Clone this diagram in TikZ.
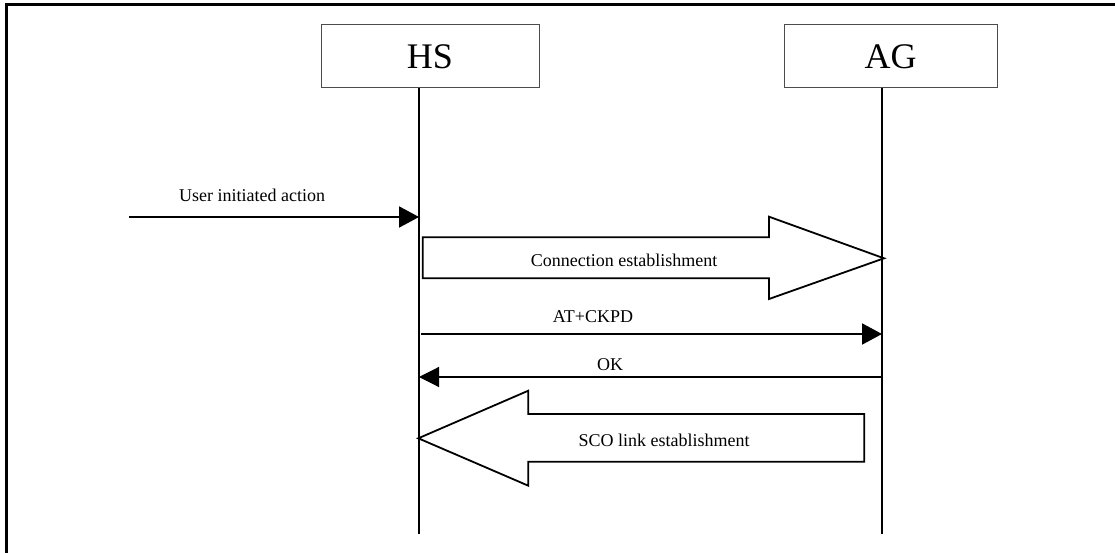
\documentclass[tikz,border=0pt]{standalone}
\usepackage{fontspec}
\setmainfont{Liberation Serif}
\usetikzlibrary{arrows.meta}
\begin{document}
\begin{tikzpicture}[x=1pt,y=-1pt,
  entity/.style={draw=black!70, line width=1pt, minimum height=63pt, inner sep=0pt, font=\fontsize{36}{36}\selectfont},
  life/.style={line width=2pt},
  msg/.style={line width=2pt, -{Triangle[length=20pt,width=21pt]}},
  msgthin/.style={line width=1.2pt, -{Triangle[length=20pt,width=20pt]}},
  lbl/.style={anchor=base, font=\fontsize{18}{18}\selectfont, inner sep=0pt},
  block/.style={draw, line width=1.8pt, line join=miter}
]
\useasboundingbox (0,0) rectangle (1115,553);
\draw[line width=3pt] (6.5,553) -- (6.5,5) -- (1115,5);

% entities
\node[entity, minimum width=218pt] (hs) at (430,56.5) {HS};
\node[entity, minimum width=213pt] (ag) at (890.5,56.5) {AG};

% lifelines
\coordinate (hsb) at (419,534);
\coordinate (agb) at (882,534);
\draw[life] (hs.south -| hsb) -- (hsb);
\draw[life] (ag.south -| agb) -- (agb);

% user initiated action
\coordinate (u0) at (129,217);
\coordinate (u1) at (419,217);
\draw[msg] (u0) -- (u1);
\node[lbl] (ulbl) at (252,202) {User initiated action};

% connection establishment
\draw[block] (422.7,237.3) -- (769,237.3) -- (769,216.7) -- (884,258.3) -- (769,299) -- (769,278.3) -- (422.7,278.3) -- cycle;
\node[lbl] (clbl) at (624,266.7) {Connection establishment};

% AT+CKPD
\coordinate (a0) at (421,334);
\coordinate (a1) at (882,334);
\draw[msg] (a0) -- (a1);
\node[lbl] (albl) at (593,322.7) {AT+CKPD};

% OK
\coordinate (o0) at (882,377);
\coordinate (o1) at (419,377);
\draw[msgthin] (o0) -- (o1);
\node[lbl] (olbl) at (610,370.7) {OK};

% SCO link establishment
\draw[block] (864.3,414) -- (528.3,414) -- (528.3,390.7) -- (418.3,438.3) -- (528.3,485.7) -- (528.3,461.7) -- (864.3,461.7) -- cycle;
\node[lbl] (slbl) at (664,446) {SCO link establishment};
\end{tikzpicture}
\end{document}
